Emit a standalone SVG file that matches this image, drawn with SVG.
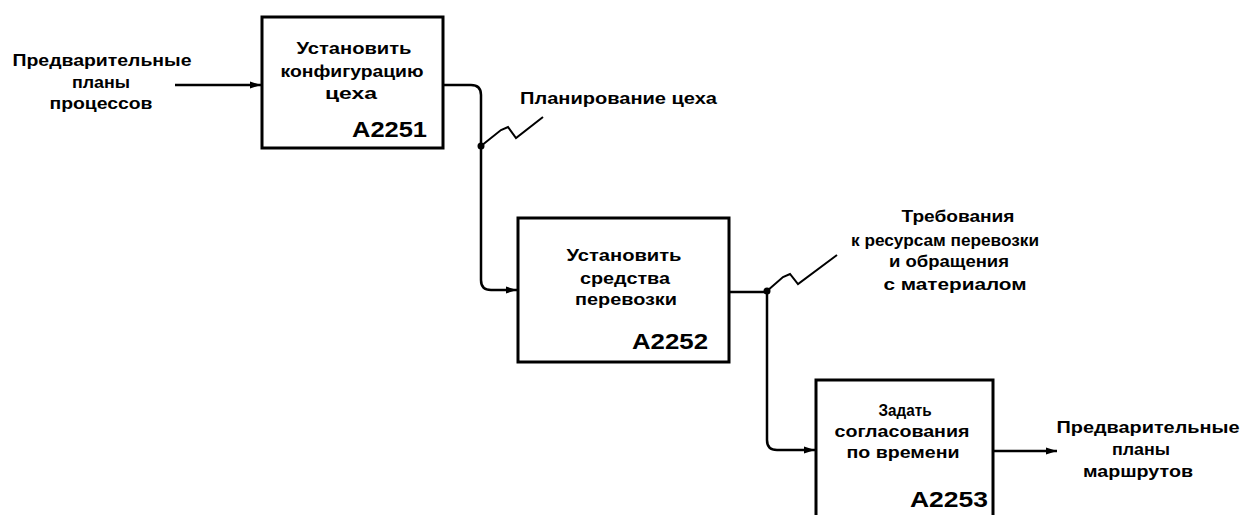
<svg xmlns="http://www.w3.org/2000/svg" width="1241" height="515" viewBox="0 0 1241 515">
<style>
text{font-family:"Liberation Sans",Arial,sans-serif;font-weight:bold;fill:#000;font-size:16px}
.c{text-anchor:middle}
.id{font-size:22px;text-anchor:end}
.box{fill:#fff;stroke:#000;stroke-width:3}
.ln{fill:none;stroke:#000;stroke-width:2.5}
.sq{fill:none;stroke:#000;stroke-width:2}
</style>
<defs>
<marker id="ah" markerWidth="12" markerHeight="10" refX="11" refY="5" orient="auto" markerUnits="userSpaceOnUse">
<path d="M0,1.5 L11,5 L0,8.5 Z" fill="#000"/>
</marker>
</defs>
<rect width="1241" height="515" fill="#fff"/>
<g id="input-label">
<text class="c" x="102" y="66" textLength="179" lengthAdjust="spacingAndGlyphs">Предварительные</text>
<text class="c" x="101" y="88" textLength="58" lengthAdjust="spacingAndGlyphs">планы</text>
<text class="c" x="101" y="109" textLength="103" lengthAdjust="spacingAndGlyphs">процессов</text>
</g>
<g id="node-A2251">
<rect class="box" x="262" y="17" width="181" height="131"/>
<text class="c" x="354" y="54" textLength="115" lengthAdjust="spacingAndGlyphs">Установить</text>
<text class="c" x="352" y="77" textLength="143" lengthAdjust="spacingAndGlyphs">конфигурацию</text>
<text class="c" x="351" y="99" textLength="52" lengthAdjust="spacingAndGlyphs">цеха</text>
<text class="id" x="427" y="137" textLength="75" lengthAdjust="spacingAndGlyphs">A2251</text>
</g>
<g id="node-A2252">
<rect class="box" x="518" y="218" width="211" height="144"/>
<text class="c" x="624" y="261" textLength="115" lengthAdjust="spacingAndGlyphs">Установить</text>
<text class="c" x="625" y="284" textLength="90" lengthAdjust="spacingAndGlyphs">средства</text>
<text class="c" x="626" y="305" textLength="102" lengthAdjust="spacingAndGlyphs">перевозки</text>
<text class="id" x="708" y="349" textLength="76" lengthAdjust="spacingAndGlyphs">A2252</text>
</g>
<g id="node-A2253">
<rect class="box" x="816" y="380" width="177" height="150"/>
<text class="c" x="905" y="416" textLength="53" lengthAdjust="spacingAndGlyphs">Задать</text>
<text class="c" x="902" y="437" textLength="135" lengthAdjust="spacingAndGlyphs">согласования</text>
<text class="c" x="903" y="458" textLength="113" lengthAdjust="spacingAndGlyphs">по времени</text>
<text class="id" x="988" y="507" textLength="78" lengthAdjust="spacingAndGlyphs">A2253</text>
</g>
<g id="connectors">
<line class="ln" x1="175" y1="85" x2="261" y2="85" marker-end="url(#ah)"/>
<path class="ln" d="M443,85 H471 Q481,85 481,95 V280 Q481,290 491,290 H517" marker-end="url(#ah)"/>
<circle cx="481" cy="146" r="3.5" fill="#000"/>
<polyline class="sq" points="481,146 501,130 508,127 516,138 543,117"/>
<path class="ln" d="M729,292 H767 V440 Q767,450 777,450 H815" marker-end="url(#ah)"/>
<circle cx="767" cy="291" r="3.5" fill="#000"/>
<polyline class="sq" points="767,291 783,277 790,274 798,284 837,255"/>
<line class="ln" x1="993" y1="451" x2="1057" y2="451" marker-end="url(#ah)"/>
</g>
<g id="labels">
<text x="520" y="104" textLength="197" lengthAdjust="spacingAndGlyphs">Планирование цеха</text>
<text class="c" x="958" y="222" textLength="113" lengthAdjust="spacingAndGlyphs">Требования</text>
<text class="c" x="945" y="246" textLength="188" lengthAdjust="spacingAndGlyphs">к ресурсам перевозки</text>
<text class="c" x="949" y="267" textLength="120" lengthAdjust="spacingAndGlyphs">и обращения</text>
<text class="c" x="955" y="290" textLength="143" lengthAdjust="spacingAndGlyphs">с материалом</text>
<text class="c" x="1148" y="433" textLength="183" lengthAdjust="spacingAndGlyphs">Предварительные</text>
<text class="c" x="1141" y="455" textLength="58" lengthAdjust="spacingAndGlyphs">планы</text>
<text class="c" x="1138" y="477" textLength="110" lengthAdjust="spacingAndGlyphs">маршрутов</text>
</g>
</svg>
